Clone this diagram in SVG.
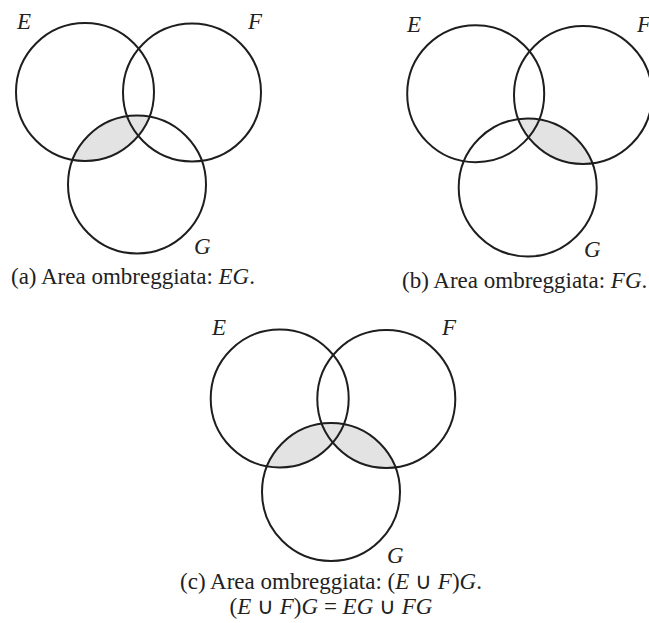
<svg xmlns="http://www.w3.org/2000/svg" width="649" height="623" viewBox="0 0 649 623">
  <style>
    .c { fill: none; stroke: #1e1e1e; stroke-width: 2; }
    .sh { fill: #e3e3e3; stroke: none; }
    .lbl { font-family: "Liberation Serif", "Times New Roman", serif; font-style: italic; font-size: 23px; fill: #222; }
    .cap { font-family: "Liberation Serif", "Times New Roman", serif; font-size: 23px; fill: #222; }
    .cap tspan.i { font-style: italic; }
  </style>
  <defs>
    <clipPath id="clipGa"><circle cx="137" cy="184.5" r="69"/></clipPath>
    <clipPath id="clipGb"><circle cx="527.7" cy="187.5" r="69"/></clipPath>
    <clipPath id="clipGc"><circle cx="331" cy="492" r="69"/></clipPath>
  </defs>
  <rect width="649" height="623" fill="#ffffff"/>

  <!-- Diagram (a) -->
  <g id="diagram-a">
    <g id="shade-a"><circle class="sh" cx="85" cy="92" r="69" clip-path="url(#clipGa)"/></g>
    <g id="a-E"><circle class="c" cx="85" cy="92" r="69"/><text class="lbl" x="17" y="29">E</text></g>
    <g id="a-F"><circle class="c" cx="192" cy="92.5" r="69"/><text class="lbl" x="248" y="29">F</text></g>
    <g id="a-G"><circle class="c" cx="137" cy="184.5" r="69"/><text class="lbl" x="194" y="254">G</text></g>
    <text class="cap" x="11" y="284">(a) Area ombreggiata: <tspan class="i">EG</tspan>.</text>
  </g>

  <!-- Diagram (b) -->
  <g id="diagram-b">
    <g id="shade-b"><circle class="sh" cx="583" cy="95" r="69" clip-path="url(#clipGb)"/></g>
    <g id="b-E"><circle class="c" cx="475.7" cy="93.7" r="68.5"/><text class="lbl" x="407" y="32">E</text></g>
    <g id="b-F"><circle class="c" cx="583" cy="95" r="69"/><text class="lbl" x="637" y="32">F</text></g>
    <g id="b-G"><circle class="c" cx="527.7" cy="187.5" r="69"/><text class="lbl" x="584" y="257">G</text></g>
    <text class="cap" x="402" y="288">(b) Area ombreggiata: <tspan class="i">FG</tspan>.</text>
  </g>

  <!-- Diagram (c) -->
  <g id="diagram-c">
    <g id="shade-c" clip-path="url(#clipGc)">
      <circle class="sh" cx="279.7" cy="398.5" r="69"/>
      <circle class="sh" cx="386.3" cy="399" r="69"/>
    </g>
    <g id="c-E"><circle class="c" cx="279.7" cy="398.5" r="69"/><text class="lbl" x="212" y="335">E</text></g>
    <g id="c-F"><circle class="c" cx="386.3" cy="399" r="69"/><text class="lbl" x="442" y="335">F</text></g>
    <g id="c-G"><circle class="c" cx="331" cy="492" r="69"/><text class="lbl" x="387" y="563">G</text></g>
    <text class="cap" x="331" y="589" text-anchor="middle">(c) Area ombreggiata: (<tspan class="i">E</tspan> ∪ <tspan class="i">F</tspan>)<tspan class="i">G</tspan>.</text>
    <text class="cap" x="331" y="614" text-anchor="middle">(<tspan class="i">E</tspan> ∪ <tspan class="i">F</tspan>)<tspan class="i">G</tspan> = <tspan class="i">EG</tspan> ∪ <tspan class="i">FG</tspan></text>
  </g>

  <g id="connectors"></g>
</svg>
